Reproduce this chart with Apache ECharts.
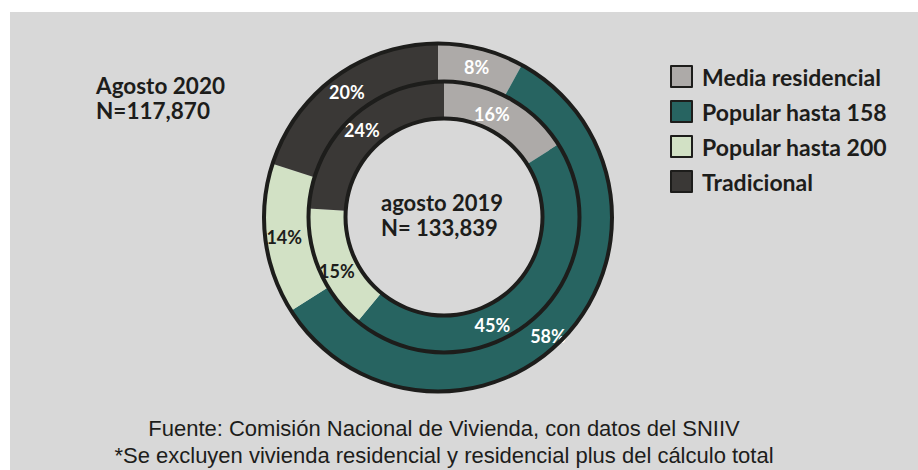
<!DOCTYPE html>
<html>
<head>
<meta charset="utf-8">
<script src="https://cdn.jsdelivr.net/npm/echarts@6/dist/echarts.min.js"></script>
<style>
  html, body { margin: 0; padding: 0; background: #ffffff; }
  #chart { width: 918px; height: 470px; }
</style>
</head>
<body>
<div id="chart"></div>
<script>
// ---- data ----
const categories = ['Media residencial', 'Popular hasta 158', 'Popular hasta 200', 'Tradicional'];
const valores2020 = [8, 58, 14, 20];   // anillo exterior (Agosto 2020)
const valores2019 = [16, 45, 15, 24];  // anillo interior (agosto 2019)
const tituloExterior = ['Agosto 2020', 'N=117,870'];
const tituloInterior = ['agosto 2019', 'N= 133,839'];
const fuente = ['Fuente: Comisión Nacional de Vivienda, con datos del SNIIV',
                '*Se excluyen vivienda residencial y residencial plus del cálculo total'];

// ---- styles ----
const colors = ['#adaaa8', '#276461', '#d2e1c5', '#3a3836'];
const labelColors = ['#ffffff', '#ffffff', '#1d1d1b', '#ffffff'];
const lineColor = '#1d1d1b';
const boldFont = 'Lato, "Open Sans", sans-serif';
const outerCenter = [438, 217.5];
const innerCenter = [444, 217];
// small label nudges (style only)
const outerLabelNudge = { 'Popular hasta 158': [-3, 12] };
const innerLabelNudge = { 'Media residencial': [-10, 2], 'Popular hasta 158': [-31, 18], 'Popular hasta 200': [3, 6] };

function buildData(values, nudges) {
  return categories.map((c, i) => ({
    name: c,
    value: values[i],
    itemStyle: { color: colors[i] },
    label: { color: labelColors[i], offset: nudges[c] || [0, 0] }
  }));
}

function ring(center, r) {
  return {
    type: 'pie', silent: true, center: center, radius: [r - 2, r + 2],
    label: { show: false }, labelLine: { show: false },
    emphasis: { disabled: true },
    data: [{ name: 'borde', value: 1, itemStyle: { color: lineColor } }],
    z: 5
  };
}

const pieCommon = {
  type: 'pie', startAngle: 90, clockwise: true, avoidLabelOverlap: false,
  label: {
    show: true, position: 'inside', fontFamily: boldFont, fontWeight: 'bold', fontSize: 18,
    formatter: p => p.value + '%'
  },
  labelLine: { show: false },
  emphasis: { disabled: true },
  itemStyle: { borderWidth: 0 }
};

const chart = echarts.init(document.getElementById('chart'), null, { renderer: 'svg' });

const textBlock = (lines, x, y, size, lh, weight, family, align) => ({
  type: 'text', z: 20, silent: true,
  style: { text: lines.join('\n'), x: x, y: y, fill: '#1d1d1b',
           font: weight + ' ' + size + 'px ' + family, lineHeight: lh,
           textAlign: align, textVerticalAlign: 'middle' }
});

chart.setOption({
  animation: false,
  backgroundColor: '#ffffff',
  legend: {
    data: categories,
    orient: 'vertical',
    left: 665, top: 60,
    icon: 'rect',
    itemWidth: 21, itemHeight: 21, itemGap: 12,
    itemStyle: { borderColor: lineColor, borderWidth: 2 },
    selectedMode: false,
    textStyle: { fontFamily: boldFont, fontWeight: 'bold', fontSize: 23, color: '#1d1d1b',
                 lineHeight: 22, padding: [0, 0, 0, 5] }
  },
  graphic: [
    { type: 'rect', z: -10, silent: true, shape: { x: 10, y: 12, width: 908, height: 458 },
      style: { fill: '#d8d8d8' } },
    textBlock(tituloExterior, 96, 97.5, 22.5, 25, 'bold', boldFont, 'left'),
    textBlock(tituloInterior, 381, 215, 22, 25, 'bold', boldFont, 'left'),
    textBlock(fuente, 444, 441.5, 22, 27, 'normal', '"Liberation Sans", Arial, sans-serif', 'center')
  ],
  series: [
    Object.assign({}, pieCommon, {
      name: 'Agosto 2020', center: outerCenter, radius: [130, 174], z: 2,
      data: buildData(valores2020, outerLabelNudge)
    }),
    Object.assign({}, pieCommon, {
      name: 'agosto 2019', center: innerCenter, radius: [98.5, 135.5], z: 3,
      data: buildData(valores2019, innerLabelNudge)
    }),
    ring(outerCenter, 174),
    ring(innerCenter, 135.5),
    ring(innerCenter, 98.5)
  ]
});
</script>
</body>
</html>
